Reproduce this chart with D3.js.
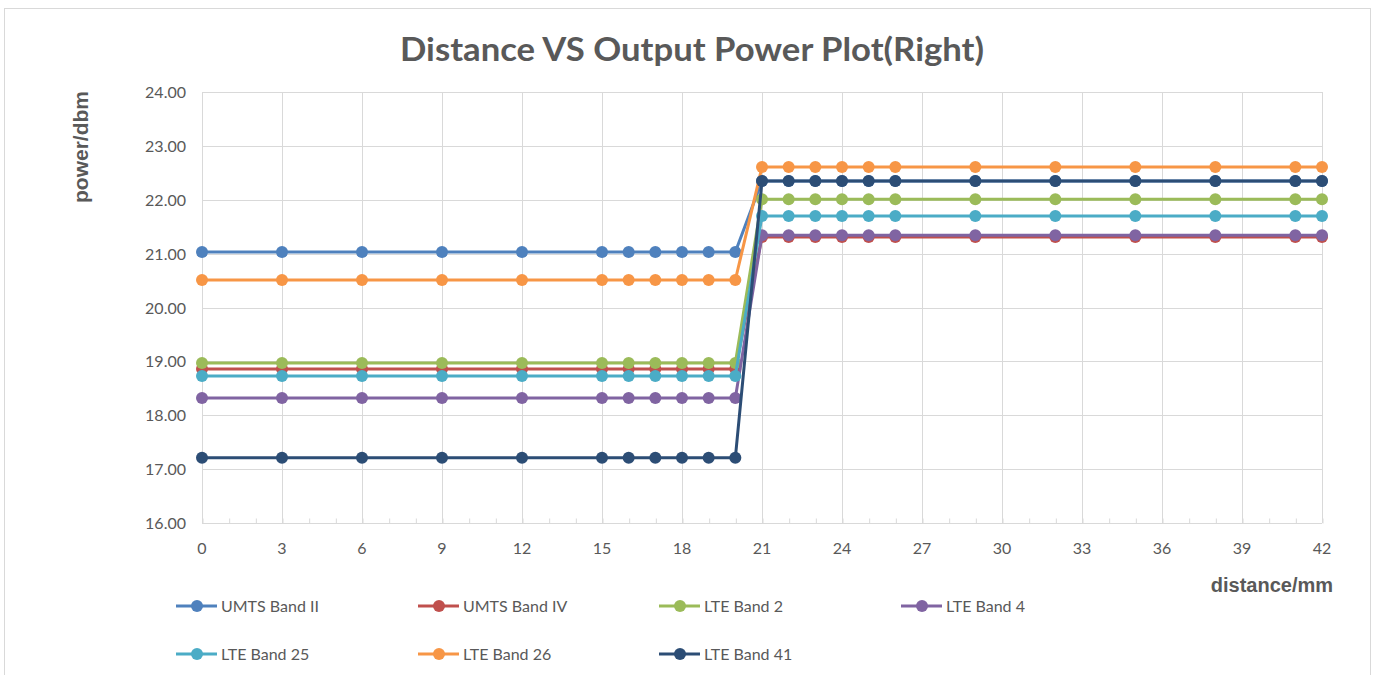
<!DOCTYPE html>
<html>
<head>
<meta charset="utf-8">
<script src="https://cdn.jsdelivr.net/npm/d3@7"></script>
<style>
  html, body { margin: 0; padding: 0; background: #fff; }
  svg { display: block; }
</style>
</head>
<body>
<svg id="chart" width="1373" height="675"></svg>
<script>
// ---- data ----
const distances = [0, 3, 6, 9, 12, 15, 16, 17, 18, 19, 20, 21, 22, 23, 24, 25, 26, 29, 32, 35, 38, 41, 42];
const seriesNames = ["UMTS Band II", "UMTS Band IV", "LTE Band 2", "LTE Band 4", "LTE Band 25", "LTE Band 26", "LTE Band 41"];
const seriesColors = ["#4F81BD", "#C0504D", "#9BBB59", "#8064A2", "#4BACC6", "#F79646", "#2C4D75"];
// power before step (0..20 mm) and after step (21..42 mm)
const powerNear = [21.03, 18.86, 18.97, 18.32, 18.73, 20.51, 17.21];
const powerFar  = [22.35, 21.31, 22.01, 21.34, 21.70, 22.61, 22.35];
const umtsBandII  = distances.map(d => d <= 20 ? powerNear[0] : powerFar[0]);
const umtsBandIV  = distances.map(d => d <= 20 ? powerNear[1] : powerFar[1]);
const lteBand2    = distances.map(d => d <= 20 ? powerNear[2] : powerFar[2]);
const lteBand4    = distances.map(d => d <= 20 ? powerNear[3] : powerFar[3]);
const lteBand25   = distances.map(d => d <= 20 ? powerNear[4] : powerFar[4]);
const lteBand26   = distances.map(d => d <= 20 ? powerNear[5] : powerFar[5]);
const lteBand41   = distances.map(d => d <= 20 ? powerNear[6] : powerFar[6]);
const seriesValues = [umtsBandII, umtsBandIV, lteBand2, lteBand4, lteBand25, lteBand26, lteBand41];
const xTicks = [0, 3, 6, 9, 12, 15, 18, 21, 24, 27, 30, 33, 36, 39, 42];
const yTicks = [16, 17, 18, 19, 20, 21, 22, 23, 24];

// ---- layout ----
const svg = d3.select("#chart");
const pLeft = 202, pRight = 1322, pTop = 92, pBottom = 523;
const x = d3.scaleLinear().domain([0, 42]).range([pLeft, pRight]);
const y = d3.scaleLinear().domain([16, 24]).range([pBottom, pTop]);
const textColor = "#595959";
const gridColor = "#D9D9D9";

// outer frame
svg.append("rect").attr("x", 4.5).attr("y", 8.5).attr("width", 1366).attr("height", 680)
  .attr("fill", "#fff").attr("stroke", "#D9D9D9").attr("stroke-width", 1);

// title
svg.append("text").attr("x", 692).attr("y", 61).attr("text-anchor", "middle")
  .attr("font-family", "Lato, 'Open Sans', sans-serif").attr("font-weight", "bold")
  .attr("font-size", 33).attr("fill", textColor)
  .attr("textLength", 584).attr("lengthAdjust", "spacingAndGlyphs")
  .text("Distance VS Output Power Plot(Right)");

// grid
const g = svg.append("g");
g.selectAll(".hgrid").data(yTicks).join("line")
  .attr("x1", pLeft).attr("x2", pRight)
  .attr("y1", d => Math.round(y(d)) + 0.5).attr("y2", d => Math.round(y(d)) + 0.5)
  .attr("stroke", gridColor).attr("stroke-width", 1);
g.selectAll(".vgrid").data(xTicks).join("line")
  .attr("y1", pTop).attr("y2", pBottom)
  .attr("x1", d => Math.round(x(d)) + 0.5).attr("x2", d => Math.round(x(d)) + 0.5)
  .attr("stroke", gridColor).attr("stroke-width", 1);

// x axis with minor ticks
const xAxis = d3.axisBottom(x).tickValues(d3.range(0, 43, 1)).tickSize(-5).tickFormat("");
const xa = svg.append("g").attr("transform", `translate(0.5,${Math.round(pBottom) + 0.5})`).call(xAxis);
xa.select(".domain").attr("stroke", gridColor).attr("d", `M${pLeft - 0.5},0H${pRight - 0.5}`);
xa.selectAll(".tick line").attr("stroke", gridColor);
// y axis line
svg.append("line").attr("x1", Math.round(pLeft) + 0.5).attr("x2", Math.round(pLeft) + 0.5)
  .attr("y1", pTop).attr("y2", pBottom).attr("stroke", gridColor);

// tick labels
svg.selectAll(".xlab").data(xTicks).join("text")
  .attr("x", d => x(d)).attr("y", 554).attr("text-anchor", "middle")
  .attr("font-family", "Lato, 'Open Sans', sans-serif").attr("font-size", 16).attr("fill", textColor)
  .text(d => d);
svg.selectAll(".ylab").data(yTicks).join("text")
  .attr("x", 186).attr("y", d => y(d) + 6).attr("text-anchor", "end")
  .attr("font-family", "Lato, 'Open Sans', sans-serif").attr("font-size", 16).attr("fill", textColor)
  .text(d => d.toFixed(2));

// axis titles
svg.append("text").attr("transform", "translate(88,147) rotate(-90)").attr("text-anchor", "middle")
  .attr("font-family", "'Liberation Sans', Arial, sans-serif").attr("font-weight", "bold")
  .attr("font-size", 21).attr("fill", textColor).text("power/dbm");
svg.append("text").attr("x", 1333).attr("y", 592).attr("text-anchor", "end")
  .attr("font-family", "'Liberation Sans', Arial, sans-serif").attr("font-weight", "bold")
  .attr("font-size", 20).attr("fill", textColor).text("distance/mm");

// series
const line = d3.line().x((d, i) => x(distances[i])).y(d => y(d));
seriesValues.forEach((vals, s) => {
  const sg = svg.append("g");
  sg.append("path").datum(vals).attr("d", line).attr("fill", "none")
    .attr("stroke", seriesColors[s]).attr("stroke-width", 3).attr("stroke-linejoin", "round");
  sg.selectAll("circle").data(vals).join("circle")
    .attr("cx", (d, i) => x(distances[i])).attr("cy", d => y(d)).attr("r", 6)
    .attr("fill", seriesColors[s]);
});

// legend
const legX = [176, 418, 659, 901];
const legY = [606, 654];
seriesNames.forEach((name, i) => {
  const cx = legX[i % 4], cy = legY[Math.floor(i / 4)];
  const lg = svg.append("g").attr("transform", `translate(${cx},${cy})`);
  lg.append("line").attr("x1", 0).attr("x2", 41).attr("y1", 0).attr("y2", 0)
    .attr("stroke", seriesColors[i]).attr("stroke-width", 3);
  lg.append("circle").attr("cx", 21).attr("cy", 0).attr("r", 6).attr("fill", seriesColors[i]);
  lg.append("text").attr("x", 45).attr("y", 6)
    .attr("font-family", "Lato, 'Open Sans', sans-serif").attr("font-size", 16).attr("fill", textColor)
    .text(name);
});
</script>
</body>
</html>
